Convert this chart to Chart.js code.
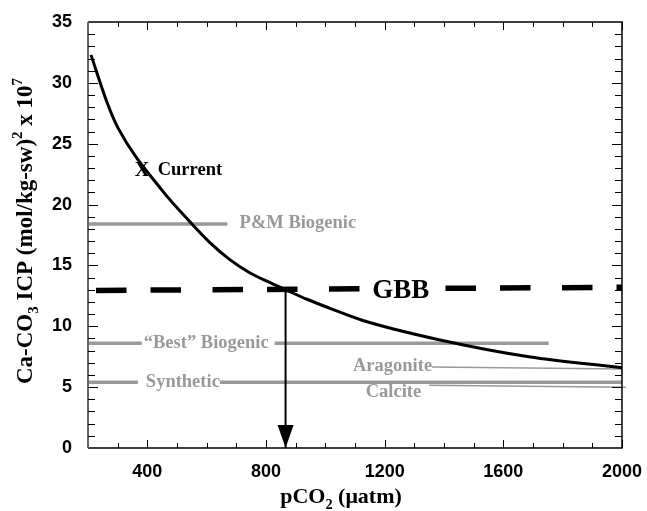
<!DOCTYPE html>
<html>
<head>
<meta charset="utf-8">
<script src="https://cdn.jsdelivr.net/npm/chart.js@4/dist/chart.umd.min.js"></script>
<style>
  html, body { margin: 0; background: #fff; }
  #wrap { width: 647px; height: 511px; }
</style>
</head>
<body>
<div id="wrap"><canvas id="chart"></canvas></div>
<script>
// --- data ---
const xMin = 200, xMax = 2000;
const yMin = 0, yMax = 35;
const xTickValues = [400, 800, 1200, 1600, 2000];
const xMinorStep = 100;
const yMinorStep = 1;

// current ICP curve
const curvePco2 = [210, 264, 301, 452, 543, 610, 677, 745, 812, 866, 940, 1013, 1124, 1383, 1686, 2000];
const curveIcp  = [32.3, 28.4, 26.3, 21.1, 18.6, 16.9, 15.5, 14.4, 13.6, 13.0, 12.2, 11.5, 10.5, 8.9, 7.5, 6.6];

// reference levels (start/end)
const gbbX = [227, 2000],       gbbY = [12.95, 13.2];
const pmX = [200, 670],         pmY = [18.4, 18.4];
const bestX = [200, 1753],      bestY = [8.6, 8.6];
const synthX = [200, 2000],     synthY = [5.4, 5.4];
const aragX = [1360, 2000],     aragY = [6.65, 6.5];
const calcX = [1350, 2013],     calcY = [5.15, 5.0];
const arrowX = [866, 866],      arrowY = [13.0, 0];

const GRAY = '#999';
const SERIF = '"Liberation Serif", "Times New Roman", serif';
const SANS = '"Liberation Sans", Arial, sans-serif';

// text annotations: [text, x, y, align, size, color, whiteBox [padL, padR]]
const notes = [
  ['X', 358, 22.35, 'left', 20, '#000', null],
  ['Current', 435, 22.4, 'left', 18.5, '#000', null],
  ['P&M Biogenic', 711, 18.08, 'left', 18.5, GRAY, null],
  ['\u201CBest\u201D Biogenic', 388, 8.2, 'left', 18.5, GRAY, [2, 6]],
  ['Synthetic', 395, 5.0, 'left', 18.5, GRAY, [8, 0]],
  ['GBB', 1158, 12.3, 'left', 27, '#000', [11, 15]],
  ['Aragonite', 1360, 6.33, 'right', 18.5, GRAY, null],
  ['Calcite', 1323, 4.2, 'right', 18.5, GRAY, null]
];

const yTitle = [['Ca-CO', 0], ['3', -1], [' ICP (mol/kg-sw)', 0], ['2', 1], [' x 10', 0], ['7', 1]];
const xTitle = [['pCO', 0], ['2', -1], [' (\u03BCatm)', 0]];

function pts(xs, ys) { return xs.map((v, i) => ({ x: v, y: ys[i] })); }

function richWidth(ctx, parts, size) {
  let w = 0;
  parts.forEach(([t, s]) => {
    ctx.font = `bold ${s ? size * 0.65 : size}px ${SERIF}`;
    w += ctx.measureText(t).width;
  });
  return w;
}

function drawRich(ctx, parts, x, y, size) {
  let cx = x;
  parts.forEach(([t, s]) => {
    const fs = s ? size * 0.65 : size;
    ctx.font = `bold ${fs}px ${SERIF}`;
    const dy = s < 0 ? size * 0.25 : s > 0 ? -size * 0.42 : 0;
    ctx.fillText(t, cx, y + dy);
    cx += ctx.measureText(t).width;
  });
}

// labels go in after the GBB line, before the curve and arrow
const labelsPlugin = {
  id: 'labels',
  afterDatasetDraw(chart, args) {
    if (chart.data.datasets[args.index].label !== 'GBB') return;
    const { ctx, scales: { x, y } } = chart;
    ctx.save();
    ctx.textBaseline = 'alphabetic';
    notes.forEach(([t, vx, vy, align, size, color, box]) => {
      ctx.font = `bold ${size}px ${SERIF}`;
      const px = x.getPixelForValue(vx), py = y.getPixelForValue(vy);
      const w = ctx.measureText(t).width;
      const left = align === 'right' ? px - w : px;
      if (box) {
        ctx.fillStyle = '#fff';
        ctx.fillRect(left - box[0], py - size * 0.8, w + box[0] + box[1], size * 1.0);
      }
      ctx.fillStyle = color;
      ctx.textAlign = 'left';
      ctx.fillText(t, left, py);
    });
    ctx.restore();
  }
};

const framePlugin = {
  id: 'frame',
  afterDatasetsDraw(chart) {
    const { ctx, chartArea: a, scales: { x, y } } = chart;
    ctx.save();
    // arrow head at the end of the arrow line
    const meta = chart.getDatasetMeta(chart.data.datasets.findIndex(d => d.label === 'arrow'));
    const tip = meta.data[meta.data.length - 1];
    ctx.fillStyle = '#000';
    ctx.beginPath();
    ctx.moveTo(tip.x, tip.y);
    ctx.lineTo(tip.x - 8, tip.y - 23);
    ctx.lineTo(tip.x + 8, tip.y - 23);
    ctx.closePath();
    ctx.fill();

    // box
    ctx.strokeStyle = '#000';
    ctx.lineWidth = 1.5;
    ctx.beginPath();
    ctx.moveTo(a.left, a.top); ctx.lineTo(a.right, a.top);
    ctx.lineTo(a.right, a.bottom); ctx.lineTo(a.left, a.bottom);
    ctx.stroke();
    ctx.strokeStyle = '#666';
    ctx.lineWidth = 2;
    ctx.beginPath();
    ctx.moveTo(a.left, a.top); ctx.lineTo(a.left, a.bottom);
    ctx.stroke();

    // inward ticks
    ctx.strokeStyle = '#000';
    ctx.lineWidth = 1;
    ctx.beginPath();
    for (let v = xMin + xMinorStep; v <= xMax; v += xMinorStep) {
      const px = Math.round(x.getPixelForValue(v)) + 0.5;
      const len = xTickValues.includes(v) ? 8 : 5;
      ctx.moveTo(px, a.bottom); ctx.lineTo(px, a.bottom - len);
      ctx.moveTo(px, a.top); ctx.lineTo(px, a.top + len);
    }
    for (let v = yMin + yMinorStep; v < yMax; v += yMinorStep) {
      const py = Math.round(y.getPixelForValue(v)) + 0.5;
      const len = v % 5 === 0 ? 10 : 7;
      ctx.moveTo(a.left, py); ctx.lineTo(a.left + len, py);
      ctx.moveTo(a.right, py); ctx.lineTo(a.right - len, py);
    }
    ctx.stroke();
    ctx.restore();
  },
  afterDraw(chart) {
    const { ctx } = chart;
    ctx.save();
    ctx.fillStyle = '#000';
    ctx.textBaseline = 'alphabetic';
    ctx.textAlign = 'left';
    // x title
    const xs = 22;
    const xw = richWidth(ctx, xTitle, xs);
    drawRich(ctx, xTitle, 341 - xw / 2, 503, xs);
    // y title
    const ys = 23;
    const yw = richWidth(ctx, yTitle, ys);
    ctx.translate(32, 231);
    ctx.rotate(-Math.PI / 2);
    drawRich(ctx, yTitle, -yw / 2, 0, ys);
    ctx.restore();
  }
};

const lineDs = (label, data, color, width, order, extra) => Object.assign({
  label, data,
  showLine: true,
  borderColor: color,
  backgroundColor: color,
  borderWidth: width,
  pointRadius: 0,
  pointHoverRadius: 0,
  tension: 0,
  order
}, extra || {});

new Chart(document.getElementById('chart'), {
  type: 'scatter',
  data: {
    datasets: [
      lineDs('arrow', pts(arrowX, arrowY), '#000', 2, 0),
      lineDs('Current', pts(curvePco2, curveIcp), '#000', 3, 1, { borderJoinStyle: 'round', cubicInterpolationMode: 'monotone' }),
      lineDs('GBB', pts(gbbX, gbbY), '#000', 5.5, 2, { borderDash: [30.5, 24, 30.5, 31.5] }),
      lineDs('P&M Biogenic', pts(pmX, pmY), GRAY, 3.5, 3),
      lineDs('Best Biogenic', pts(bestX, bestY), GRAY, 3.5, 4),
      lineDs('Synthetic', pts(synthX, synthY), GRAY, 3.5, 5),
      lineDs('Aragonite', pts(aragX, aragY), GRAY, 1.5, 6),
      lineDs('Calcite', pts(calcX, calcY), GRAY, 1.5, 7, { clip: false })
    ]
  },
  options: {
    responsive: true,
    maintainAspectRatio: false,
    animation: false,
    events: [],
    layout: { padding: { left: 0, right: 21, top: 22, bottom: 0 } },
    plugins: { legend: { display: false }, tooltip: { enabled: false } },
    scales: {
      x: {
        type: 'linear',
        min: xMin, max: xMax,
        grid: { display: false },
        border: { display: false },
        afterBuildTicks: s => { s.ticks = xTickValues.map(v => ({ value: v })); },
        afterFit: s => { s.height = 63; },
        ticks: {
          color: '#000',
          padding: 5,
          autoSkip: false,
          maxRotation: 0,
          callback: v => String(v),
          font: { family: SANS, weight: 'bold', size: 18 }
        }
      },
      y: {
        type: 'linear',
        min: yMin, max: yMax,
        grid: { display: false },
        border: { display: false },
        afterFit: s => { s.width = 88; },
        ticks: {
          stepSize: 5,
          color: '#000',
          padding: 8,
          callback: v => String(v),
          font: { family: SANS, weight: 'bold', size: 18 }
        }
      }
    }
  },
  plugins: [labelsPlugin, framePlugin]
});
</script>
</body>
</html>
